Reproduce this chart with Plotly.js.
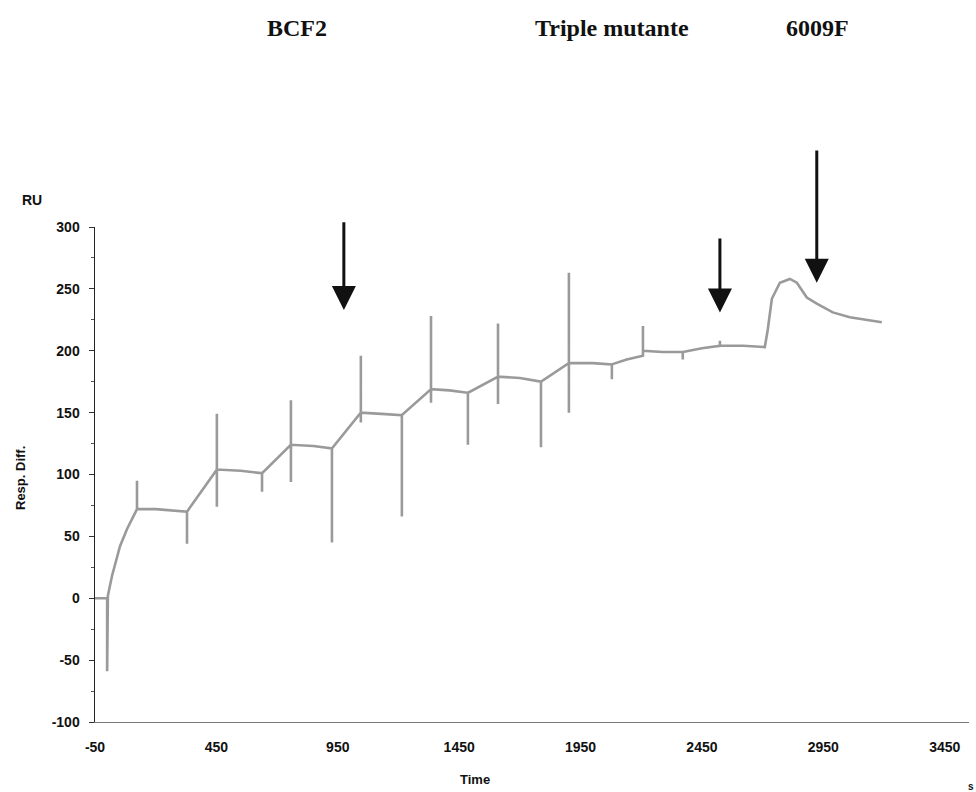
<!DOCTYPE html>
<html>
<head>
<meta charset="utf-8">
<script src="https://cdn.plot.ly/plotly-3.0.1.min.js"></script>
<style>html,body{margin:0;padding:0;background:#fff;}#chart{width:976px;height:792px;}</style>
</head>
<body>
<div id="chart"></div>
<script>
// Time (s) and response (RU); repeated times are injection spikes
const time = [-50, 0, 0, 0, 3, 20, 53, 82, 115, 123, 123, 123, 200, 280, 329, 329, 329,
  452, 452, 452, 452, 550, 638, 638, 638, 757, 757, 757, 757, 850, 926, 926, 926,
  1045, 1045, 1045, 1045, 1130, 1214, 1214, 1214, 1334, 1334, 1334, 1334, 1410, 1486, 1486, 1486,
  1610, 1610, 1610, 1610, 1700, 1787, 1787, 1787, 1902, 1902, 1902, 1902, 2000, 2079, 2079, 2079,
  2140, 2207, 2207, 2207, 2290, 2371, 2371, 2371, 2450, 2524, 2524, 2524, 2620, 2709, 2721, 2738,
  2771, 2812, 2841, 2882, 2923, 2989, 3059, 3129, 3191];
const response = [0, 0, -59, 0, 2, 18, 42, 56, 70, 72, 95, 72, 72, 71, 70, 44, 70,
  104, 149, 74, 104, 103, 101, 86, 101, 124, 160, 94, 124, 123, 121, 45, 121,
  150, 196, 142, 150, 149, 148, 66, 148, 169, 228, 158, 169, 168, 166, 124, 166,
  179, 222, 157, 179, 178, 175, 122, 175, 190, 263, 150, 190, 190, 189, 177, 189,
  193, 196, 220, 200, 199, 199, 193, 199, 202, 204, 208, 204, 204, 203, 217, 242,
  255, 258, 255, 243, 238, 231, 227, 225, 223];
const xTicks = [-50, 450, 950, 1450, 1950, 2450, 2950, 3450];
const yTicks = [-100, -50, 0, 50, 100, 150, 200, 250, 300];
// Arrow annotations: [tipTime, tipResp, tailResp]
const arrowTip = [[975, 233], [2524, 231], [2923, 255]];
const arrowTail = [305, 292, 363];
const headers = ["BCF2", "Triple mutante", "6009F"];

const trace = {
  x: time, y: response, type: 'scatter', mode: 'lines',
  line: {color: '#9a9a9a', width: 2.6}, hoverinfo: 'skip'
};

const annotations = [];
arrowTip.forEach((p, i) => {
  annotations.push({
    x: p[0], y: p[1], xref: 'x', yref: 'y',
    ax: p[0], ay: arrowTail[i], axref: 'x', ayref: 'y',
    showarrow: true, arrowhead: 2, arrowsize: 1.6, arrowwidth: 3, arrowcolor: '#111', text: ''
  });
});
const hx = [297, 612, 817];
headers.forEach((h, i) => {
  annotations.push({
    text: '<b>' + h + '</b>', xref: 'paper', yref: 'paper',
    x: (hx[i] - 95) / 874, y: (722 - 28) / 495, xanchor: 'center', yanchor: 'middle',
    showarrow: false, font: {family: 'Liberation Serif', size: 24, color: '#111'}
  });
});
annotations.push({text: '<b>RU</b>', xref: 'paper', yref: 'paper', x: (32 - 95) / 874, y: (722 - 200) / 495,
  xanchor: 'center', yanchor: 'middle', showarrow: false, font: {family: 'Liberation Sans', size: 14, color: '#111'}});
annotations.push({text: '<b>Resp. Diff.</b>', xref: 'paper', yref: 'paper', x: (20 - 95) / 874, y: (722 - 478) / 495,
  xanchor: 'center', yanchor: 'middle', textangle: -90, showarrow: false, font: {family: 'Liberation Sans', size: 13, color: '#111'}});
annotations.push({text: '<b>Time</b>', xref: 'paper', yref: 'paper', x: (475 - 95) / 874, y: (722 - 779) / 495,
  xanchor: 'center', yanchor: 'middle', showarrow: false, font: {family: 'Liberation Sans', size: 13, color: '#111'}});
annotations.push({text: '<b>s</b>', xref: 'paper', yref: 'paper', x: (971 - 95) / 874, y: (722 - 786) / 495,
  xanchor: 'center', yanchor: 'middle', showarrow: false, font: {family: 'Liberation Sans', size: 10, color: '#111'}});

const layout = {
  width: 976, height: 792,
  margin: {l: 95, r: 7, t: 227, b: 70},
  paper_bgcolor: '#fff', plot_bgcolor: '#fff',
  showlegend: false,
  font: {family: 'Liberation Sans', color: '#111'},
  xaxis: {
    range: [-50, 3550], tickvals: xTicks, ticktext: xTicks.map(String),
    showgrid: false, zeroline: false, showline: true, linecolor: '#777', linewidth: 1,
    ticks: '', ticklabelstandoff: 12,
    tickfont: {family: 'Liberation Sans', size: 14, weight: 'bold', color: '#111'}
  },
  yaxis: {
    range: [-100, 300], tickvals: yTicks, ticktext: yTicks.map(String),
    showgrid: false, zeroline: false, showline: true, linecolor: '#222', linewidth: 1.5,
    ticks: 'outside', ticklen: 5, tickcolor: '#333', ticklabelstandoff: 6,
    minor: {dtick: 25, ticks: 'outside', ticklen: 3, tickcolor: '#555'},
    tickfont: {family: 'Liberation Sans', size: 14, weight: 'bold', color: '#111'}
  },
  annotations: annotations
};

Plotly.newPlot('chart', [trace], layout, {staticPlot: true});
</script>
</body>
</html>
